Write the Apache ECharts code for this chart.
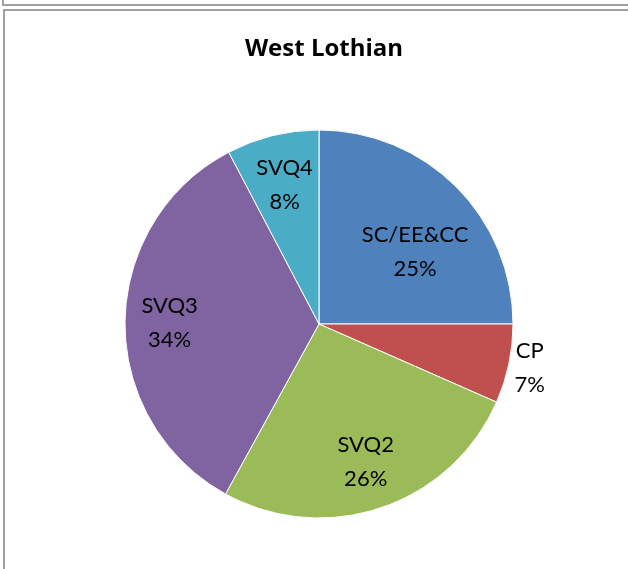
<!DOCTYPE html>
<html>
<head>
<meta charset="utf-8">
<script src="https://cdn.jsdelivr.net/npm/echarts@6/dist/echarts.min.js"></script>
<style>
  body { margin: 0; background: #fff; }
  .frame { position: absolute; border: 2px solid #a0a0a0; box-sizing: border-box; }
  #chart { position: absolute; left: 0; top: 0; width: 628px; height: 569px; }
</style>
</head>
<body>
<div class="frame" style="left:2px; top:-20px; width:700px; height:26px;"></div>
<div class="frame" style="left:3px; top:9px; width:700px; height:600px;"></div>
<div id="chart"></div>
<script>
const categories = ['SC/EE&CC', 'CP', 'SVQ2', 'SVQ3', 'SVQ4'];
const values = [25, 6.6, 26.4, 34.3, 7.7];
const colors = ['#4F81BD', '#C0504D', '#9BBB59', '#8064A2', '#4BACC6'];

// where each label sits, as a share of the radius from the centre
const labelDist = [0.62, 1.11, 0.75, 0.77, 0.74];
const labelTurn = [-8, 0, 0, 0, 0]; // small angle nudge in degrees

const cx = 319, cy = 324, R = 194;
const total = values.reduce((a, b) => a + b, 0);

function labelPos(i) {
  let before = 0;
  for (let k = 0; k < i; k++) before += values[k];
  const mid = (before + values[i] / 2) / total * 360;
  const a = (90 - mid + labelTurn[i]) * Math.PI / 180;
  return {
    x: cx + R * labelDist[i] * Math.cos(a),
    y: cy - R * labelDist[i] * Math.sin(a)
  };
}

const chart = echarts.init(document.getElementById('chart'));
chart.setOption({
  animation: false,
  title: {
    text: 'West Lothian',
    left: cx,
    textAlign: 'center',
    top: 32,
    textStyle: { fontFamily: 'Open Sans', fontWeight: 'bold', fontSize: 24, color: '#000' }
  },
  series: [
    {
      type: 'pie',
      center: [cx, cy],
      radius: R,
      startAngle: 90,
      clockwise: true,
      data: categories.map((c, i) => ({
        name: c,
        value: values[i],
        itemStyle: { color: colors[i] }
      })),
      itemStyle: { borderColor: '#fff', borderWidth: 1 },
      label: {
        position: 'inside',
        fontFamily: 'Lato',
        fontSize: 22,
        lineHeight: 34,
        color: '#000',
        align: 'center',
        formatter: p => p.name + '\n' + Math.round(p.percent) + '%'
      },
      labelLine: { show: false },
      labelLayout: p => labelPos(p.dataIndex),
      emphasis: { disabled: true }
    }
  ]
});
</script>
</body>
</html>
